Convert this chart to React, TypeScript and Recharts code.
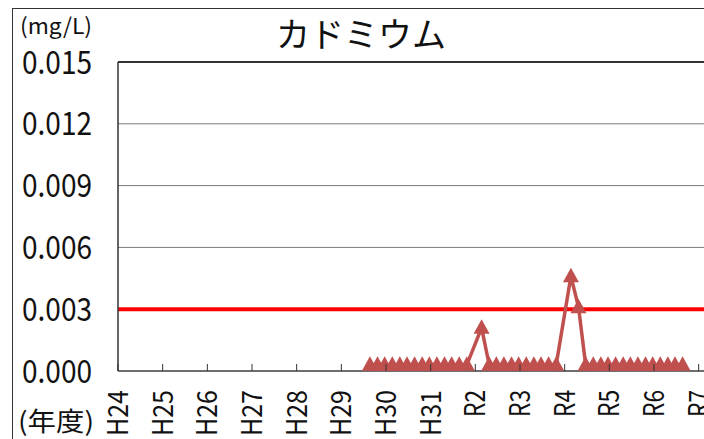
import React from 'react';
import { LineChart, Line, XAxis, YAxis, CartesianGrid, ReferenceLine } from 'recharts';

// 年度ラベル（H24 〜 R7）
const YEAR_LABELS = ['H24', 'H25', 'H26', 'H27', 'H28', 'H29', 'H30', 'H31', 'R2', 'R3', 'R4', 'R5', 'R6', 'R7'];
const YEAR_TICKS = [0, 1, 2, 3, 4, 5, 6, 7, 8, 9, 10, 11, 12, 13];

// 採水時期（年度の通し位置）
const SAMPLE_T = [
  5.64, 5.81, 5.97, 6.14, 6.31, 6.47, 6.64, 6.81, 6.97, 7.14, 7.31, 7.47, 7.64, 7.81,
  8.14,
  8.31, 8.47, 8.64, 8.81, 8.97, 9.14, 9.31, 9.47, 9.64, 9.81,
  10.14, 10.31,
  10.47, 10.64, 10.81, 10.97, 11.14, 11.31, 11.47, 11.64, 11.81, 11.97, 12.14, 12.31, 12.47, 12.64,
];

// カドミウム濃度 (mg/L)
const CADMIUM = [
  0.0003, 0.0003, 0.0003, 0.0003, 0.0003, 0.0003, 0.0003, 0.0003, 0.0003, 0.0003, 0.0003, 0.0003, 0.0003, 0.0003,
  0.0021,
  0.0003, 0.0003, 0.0003, 0.0003, 0.0003, 0.0003, 0.0003, 0.0003, 0.0003, 0.0003,
  0.0046, 0.0031,
  0.0003, 0.0003, 0.0003, 0.0003, 0.0003, 0.0003, 0.0003, 0.0003, 0.0003, 0.0003, 0.0003, 0.0003, 0.0003, 0.0003,
];

const Y_TICKS = [0, 0.003, 0.006, 0.009, 0.012, 0.015];
const STANDARD = 0.003; // 環境基準

const chartData = SAMPLE_T.map((t, i) => ({ t, value: CADMIUM[i] }));

const FONT = '"Noto Sans CJK JP", "Noto Sans", sans-serif';

const TriangleDot = (props: any) => {
  const { cx, cy, index } = props;
  if (cx == null || cy == null) return <g key={`d-${index}`} />;
  return (
    <path
      key={`d-${index}`}
      d={`M${cx},${cy - 8.5}L${cx + 8},${cy + 6}L${cx - 8},${cy + 6}Z`}
      fill="#C0504D"
      stroke="none"
    />
  );
};

const YTick = (props: any) => {
  const { y, payload } = props;
  return (
    <text
      x={22}
      y={y + 11.5}
      fontSize={32}
      fontFamily={FONT}
      fill="#111"
      textLength={70}
      lengthAdjust="spacingAndGlyphs"
    >
      {Number(payload.value).toFixed(3)}
    </text>
  );
};

const XTick = (props: any) => {
  const { x, y, payload } = props;
  const label = YEAR_LABELS[payload.value] ?? '';
  const len = label.length === 3 ? 46 : 27;
  return (
    <g>
      <line x1={x} y1={y} x2={x} y2={y - 7} stroke="#333" strokeWidth={1} />
      <text
        x={x + 10}
        y={390}
        transform={`rotate(-90, ${x + 10}, 390)`}
        textAnchor="end"
        fontSize={28}
        fontFamily={FONT}
        fill="#111"
        textLength={len}
        lengthAdjust="spacingAndGlyphs"
      >
        {label}
      </text>
    </g>
  );
};

export default function App() {
  return (
    <div
      style={{
        position: 'absolute',
        left: 0,
        top: 0,
        width: 704,
        height: 439,
        overflow: 'hidden',
        background: '#fff',
      }}
    >
      <div
        style={{
          position: 'absolute',
          left: 12,
          top: 8,
          width: 800,
          height: 500,
          border: '1.5px solid #333',
        }}
      />
      <div style={{ position: 'absolute', left: 0, top: 0 }}>
        <LineChart width={740} height={439} data={chartData} margin={{ top: 62, right: 19, bottom: 0, left: 0 }}>
          <CartesianGrid vertical={false} stroke="#7a7a7a" strokeWidth={1} />
          <XAxis
            type="number"
            dataKey="t"
            domain={[0, 13.5]}
            ticks={YEAR_TICKS}
            allowDataOverflow
            height={68}
            axisLine={{ stroke: '#555', strokeWidth: 1.5 }}
            tickLine={false}
            tickSize={0}
            tickMargin={0}
            tick={XTick}
            interval={0}
          />
          <YAxis
            type="number"
            domain={[0, 0.015]}
            ticks={Y_TICKS}
            width={118}
            axisLine={{ stroke: '#333', strokeWidth: 1.5 }}
            tickLine={false}
            tick={YTick}
            interval={0}
          />
          <ReferenceLine y={0.015} stroke="#333" strokeWidth={2} />
          <ReferenceLine y={STANDARD} stroke="#FF0000" strokeWidth={4} />
          <Line
            type="linear"
            dataKey="value"
            stroke="#C0504D"
            strokeWidth={3.5}
            dot={TriangleDot}
            activeDot={false}
            isAnimationActive={false}
          />
        </LineChart>
      </div>
      <svg
        width={704}
        height={439}
        style={{ position: 'absolute', left: 0, top: 0, pointerEvents: 'none' }}
      >
        <text x={20} y={34} fontSize={22} fontFamily={FONT} fill="#111" textLength={72} lengthAdjust="spacingAndGlyphs">
          (mg/L)
        </text>
        <text x={361} y={47} textAnchor="middle" fontSize={34} fontFamily={FONT} fill="#111">
          カドミウム
        </text>
        <text x={18} y={431} fontSize={26} fontFamily={FONT} fill="#111" textLength={76} lengthAdjust="spacingAndGlyphs">
          (年度)
        </text>
      </svg>
    </div>
  );
}
